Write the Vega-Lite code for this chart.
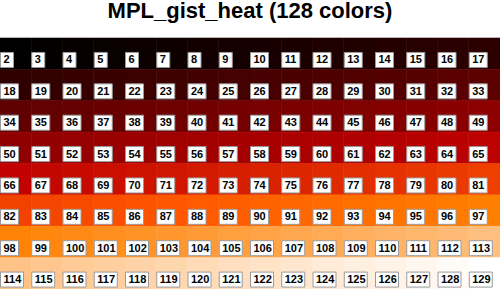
{
  "$schema": "https://vega.github.io/schema/vega-lite/v6.json",
  "width": 500,
  "height": 251,
  "autosize": {"type": "none"},
  "padding": {"top": 38, "left": 0, "right": 0, "bottom": 0},
  "title": {"text": "MPL_gist_heat (128 colors)", "font": "Liberation Sans", "fontSize": 22, "fontWeight": "bold", "color": "#000000", "anchor": "middle", "frame": "group", "baseline": "alphabetic", "offset": -2.5},
  "config": {"view": {"stroke": null}},
  "data": {"values": [
    {"n":2,"row":0,"col":0},{"n":3,"row":0,"col":1},{"n":4,"row":0,"col":2},{"n":5,"row":0,"col":3},{"n":6,"row":0,"col":4},{"n":7,"row":0,"col":5},{"n":8,"row":0,"col":6},{"n":9,"row":0,"col":7},{"n":10,"row":0,"col":8},{"n":11,"row":0,"col":9},{"n":12,"row":0,"col":10},{"n":13,"row":0,"col":11},{"n":14,"row":0,"col":12},{"n":15,"row":0,"col":13},{"n":16,"row":0,"col":14},{"n":17,"row":0,"col":15},
    {"n":18,"row":1,"col":0},{"n":19,"row":1,"col":1},{"n":20,"row":1,"col":2},{"n":21,"row":1,"col":3},{"n":22,"row":1,"col":4},{"n":23,"row":1,"col":5},{"n":24,"row":1,"col":6},{"n":25,"row":1,"col":7},{"n":26,"row":1,"col":8},{"n":27,"row":1,"col":9},{"n":28,"row":1,"col":10},{"n":29,"row":1,"col":11},{"n":30,"row":1,"col":12},{"n":31,"row":1,"col":13},{"n":32,"row":1,"col":14},{"n":33,"row":1,"col":15},
    {"n":34,"row":2,"col":0},{"n":35,"row":2,"col":1},{"n":36,"row":2,"col":2},{"n":37,"row":2,"col":3},{"n":38,"row":2,"col":4},{"n":39,"row":2,"col":5},{"n":40,"row":2,"col":6},{"n":41,"row":2,"col":7},{"n":42,"row":2,"col":8},{"n":43,"row":2,"col":9},{"n":44,"row":2,"col":10},{"n":45,"row":2,"col":11},{"n":46,"row":2,"col":12},{"n":47,"row":2,"col":13},{"n":48,"row":2,"col":14},{"n":49,"row":2,"col":15},
    {"n":50,"row":3,"col":0},{"n":51,"row":3,"col":1},{"n":52,"row":3,"col":2},{"n":53,"row":3,"col":3},{"n":54,"row":3,"col":4},{"n":55,"row":3,"col":5},{"n":56,"row":3,"col":6},{"n":57,"row":3,"col":7},{"n":58,"row":3,"col":8},{"n":59,"row":3,"col":9},{"n":60,"row":3,"col":10},{"n":61,"row":3,"col":11},{"n":62,"row":3,"col":12},{"n":63,"row":3,"col":13},{"n":64,"row":3,"col":14},{"n":65,"row":3,"col":15},
    {"n":66,"row":4,"col":0},{"n":67,"row":4,"col":1},{"n":68,"row":4,"col":2},{"n":69,"row":4,"col":3},{"n":70,"row":4,"col":4},{"n":71,"row":4,"col":5},{"n":72,"row":4,"col":6},{"n":73,"row":4,"col":7},{"n":74,"row":4,"col":8},{"n":75,"row":4,"col":9},{"n":76,"row":4,"col":10},{"n":77,"row":4,"col":11},{"n":78,"row":4,"col":12},{"n":79,"row":4,"col":13},{"n":80,"row":4,"col":14},{"n":81,"row":4,"col":15},
    {"n":82,"row":5,"col":0},{"n":83,"row":5,"col":1},{"n":84,"row":5,"col":2},{"n":85,"row":5,"col":3},{"n":86,"row":5,"col":4},{"n":87,"row":5,"col":5},{"n":88,"row":5,"col":6},{"n":89,"row":5,"col":7},{"n":90,"row":5,"col":8},{"n":91,"row":5,"col":9},{"n":92,"row":5,"col":10},{"n":93,"row":5,"col":11},{"n":94,"row":5,"col":12},{"n":95,"row":5,"col":13},{"n":96,"row":5,"col":14},{"n":97,"row":5,"col":15},
    {"n":98,"row":6,"col":0},{"n":99,"row":6,"col":1},{"n":100,"row":6,"col":2},{"n":101,"row":6,"col":3},{"n":102,"row":6,"col":4},{"n":103,"row":6,"col":5},{"n":104,"row":6,"col":6},{"n":105,"row":6,"col":7},{"n":106,"row":6,"col":8},{"n":107,"row":6,"col":9},{"n":108,"row":6,"col":10},{"n":109,"row":6,"col":11},{"n":110,"row":6,"col":12},{"n":111,"row":6,"col":13},{"n":112,"row":6,"col":14},{"n":113,"row":6,"col":15},
    {"n":114,"row":7,"col":0},{"n":115,"row":7,"col":1},{"n":116,"row":7,"col":2},{"n":117,"row":7,"col":3},{"n":118,"row":7,"col":4},{"n":119,"row":7,"col":5},{"n":120,"row":7,"col":6},{"n":121,"row":7,"col":7},{"n":122,"row":7,"col":8},{"n":123,"row":7,"col":9},{"n":124,"row":7,"col":10},{"n":125,"row":7,"col":11},{"n":126,"row":7,"col":12},{"n":127,"row":7,"col":13},{"n":128,"row":7,"col":14},{"n":129,"row":7,"col":15}
  ]},
  "layer": [
    {
      "mark": {"type": "rect", "strokeWidth": 0.6},
      "encoding": {
        "x": {"field": "col", "type": "ordinal", "scale": {"paddingInner": 0, "paddingOuter": 0}, "axis": null},
        "y": {"field": "row", "type": "ordinal", "scale": {"paddingInner": 0, "paddingOuter": 0}, "axis": null},
        "color": {"field": "n", "type": "quantitative", "legend": null,
          "scale": {"type": "linear", "domain": [2, 65.5, 86.667, 97.25, 129], "range": ["#000000", "#bf0000", "#ff5500", "#ff8000", "#ffffff"], "interpolate": "rgb"}},
        "stroke": {"field": "n", "type": "quantitative", "legend": null,
          "scale": {"type": "linear", "domain": [2, 65.5, 86.667, 97.25, 129], "range": ["#000000", "#bf0000", "#ff5500", "#ff8000", "#ffffff"], "interpolate": "rgb"}}
      }
    },
    {
      "transform": [{"filter": "datum.n < 10"}],
      "mark": {"type": "point", "shape": "M0.5,-7.5H13.5V7.5H0.5Z", "size": 4, "filled": true, "fill": "#ffffff", "stroke": "#9a9a9a", "strokeWidth": 1, "opacity": 1},
      "encoding": {
        "x": {"field": "col", "type": "ordinal", "bandPosition": 0},
        "y": {"field": "row", "type": "ordinal", "bandPosition": 0.7}
      }
    },
    {
      "transform": [{"filter": "datum.n >= 10 && datum.n < 100"}],
      "mark": {"type": "point", "shape": "M0.5,-7.5H18.5V7.5H0.5Z", "size": 4, "filled": true, "fill": "#ffffff", "stroke": "#9a9a9a", "strokeWidth": 1, "opacity": 1},
      "encoding": {
        "x": {"field": "col", "type": "ordinal", "bandPosition": 0},
        "y": {"field": "row", "type": "ordinal", "bandPosition": 0.7}
      }
    },
    {
      "transform": [{"filter": "datum.n >= 100"}],
      "mark": {"type": "point", "shape": "M0.5,-7.5H23.5V7.5H0.5Z", "size": 4, "filled": true, "fill": "#ffffff", "stroke": "#9a9a9a", "strokeWidth": 1, "opacity": 1},
      "encoding": {
        "x": {"field": "col", "type": "ordinal", "bandPosition": 0},
        "y": {"field": "row", "type": "ordinal", "bandPosition": 0.7}
      }
    },
    {
      "mark": {"type": "text", "align": "left", "baseline": "middle", "dx": 3.5, "dy": 0.5, "font": "Liberation Sans", "fontSize": 11, "fontWeight": "bold", "color": "#000000"},
      "encoding": {
        "x": {"field": "col", "type": "ordinal", "bandPosition": 0},
        "y": {"field": "row", "type": "ordinal", "bandPosition": 0.7},
        "text": {"field": "n", "type": "quantitative"}
      }
    }
  ]
}
